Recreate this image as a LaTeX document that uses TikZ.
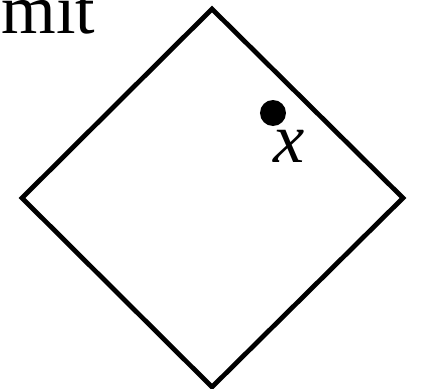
\documentclass[tikz,border=0pt]{standalone}
\usepackage{fontspec}
\setmainfont{Liberation Serif}
\tikzset{
  rand/.style={line width=2.7pt, line join=miter},
  big/.style={font=\fontsize{40}{44}\selectfont, inner sep=0pt}
}
\begin{document}
\begin{tikzpicture}[x=0.02cm, y=-0.02cm]
    \useasboundingbox (0,0) rectangle (424,389);
    % Text oben links (abgeschnitten)
    \node[big, anchor=base west] (txt) at (1,33) {mit};
    % Raute
    \coordinate (oben) at (212,9);
    \coordinate (rechts) at (403,198);
    \coordinate (unten) at (212,387);
    \coordinate (links) at (22,198);
    \draw[rand] (oben) -- (rechts) -- (unten) -- (links) -- cycle;
    % Punkt x
    \fill (273,113) circle (13);
    \node[big, anchor=base] (lbl) at (289,162) {\textit{x}};
\end{tikzpicture}
\end{document}
